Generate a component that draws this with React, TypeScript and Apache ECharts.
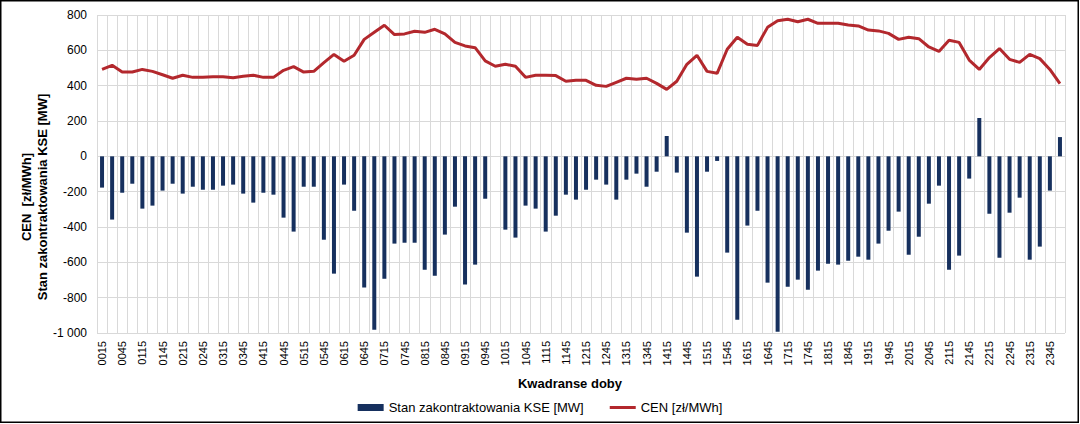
import React, { useEffect, useRef } from "react";
import * as echarts from "echarts";

const categories: string[] = ["0015","0030","0045","0100","0115","0130","0145","0200","0215","0230","0245","0300","0315","0330","0345","0400","0415","0430","0445","0500","0515","0530","0545","0600","0615","0630","0645","0700","0715","0730","0745","0800","0815","0830","0845","0900","0915","0930","0945","1000","1015","1030","1045","1100","1115","1130","1145","1200","1215","1230","1245","1300","1315","1330","1345","1400","1415","1430","1445","1500","1515","1530","1545","1600","1615","1630","1645","1700","1715","1730","1745","1800","1815","1830","1845","1900","1915","1930","1945","2000","2015","2030","2045","2100","2115","2130","2145","2200","2215","2230","2245","2300","2315","2330","2345","2400"];

const kse: number[] = [
  -177, -358, -206, -155, -296, -279, -194, -155, -211, -172,
  -189, -189, -166, -160, -211, -262, -206, -217, -347, -426,
  -172, -172, -472, -664, -160, -308, -743, -981, -693, -494,
  -489, -489, -642, -676, -443, -285, -726, -613, -240, 0,
  -415, -460, -279, -296, -426, -336, -217, -245, -189, -132,
  -160, -245, -132, -98, -172, -87, 115, -92, -432, -681,
  -87, -26, -545, -925, -392, -308, -715, -993, -738, -698,
  -755, -647, -608, -613, -591, -568, -585, -494, -421, -313,
  -557, -455, -268, -166, -642, -562, -126, 217, -325, -574,
  -319, -234, -585, -511, -194, 109,
];

const cen: number[] = [
  492, 515, 477, 477, 492, 481, 462, 442, 459, 447,
  447, 451, 451, 445, 453, 459, 447, 447, 487, 508,
  477, 481, 530, 577, 538, 572, 662, 702, 742, 689,
  693, 708, 702, 719, 693, 645, 625, 615, 540, 510,
  521, 510, 447, 459, 459, 457, 425, 430, 430, 402,
  396, 419, 442, 436, 442, 413, 379, 425, 521, 572,
  481, 470, 606, 674, 634, 628, 730, 768, 776, 762,
  776, 753, 753, 753, 743, 738, 715, 710, 696, 662,
  674, 666, 619, 594, 657, 645, 545, 492, 559, 610,
  549, 532, 577, 553, 492, 411,
];

const seriesNames = ["Stan zakontraktowania KSE [MW]", "CEN [zł/MWh]"];
const xTitle = "Kwadranse doby";
const yTitle1 = "CEN  [zł/MWh]";
const yTitle2 = "Stan zakontraktowania KSE [MW]";

const FONT = "'Liberation Sans', Arial, sans-serif";

function fmt(v: number): string {
  const neg = v < 0;
  const s = String(Math.abs(v)).replace(/\B(?=(\d{3})+(?!\d))/g, " ");
  return (neg ? "-" : "") + s;
}

export default function App() {
  const ref = useRef<HTMLDivElement>(null);
  useEffect(() => {
    if (!ref.current) return;
    const chart = echarts.init(ref.current, undefined, { renderer: "svg" });
    chart.setOption({
      animation: false,
      backgroundColor: "#fff",
      textStyle: { fontFamily: FONT },
      grid: { left: 97, right: 15, top: 15, bottom: 91, containLabel: false },
      legend: {
        left: "center",
        top: 396,
        itemGap: 26,
        itemWidth: 26,
        itemHeight: 7,
        textStyle: { fontFamily: FONT, fontSize: 13, color: "#000" },
        data: [
          { name: seriesNames[0], icon: "rect" },
          {
            name: seriesNames[1],
            icon: "path://M0,0h26v3h-26z",
            itemStyle: { color: "#B3282D", borderWidth: 0 },
          },
        ],
      },
      xAxis: {
        type: "category",
        data: categories,
        boundaryGap: true,
        axisLine: { show: false },
        axisTick: { show: false },
        axisLabel: {
          interval: 1,
          rotate: 90,
          margin: 8,
          fontSize: 11,
          color: "#000",
          fontFamily: FONT,
        },
        splitLine: { show: true, interval: 0, lineStyle: { color: "#d9d9d9", width: 1 } },
      },
      yAxis: {
        type: "value",
        min: -1000,
        max: 800,
        interval: 200,
        axisLine: { show: false },
        axisTick: { show: false },
        axisLabel: {
          margin: 10,
          fontSize: 12,
          color: "#000",
          fontFamily: FONT,
          formatter: (v: number) => fmt(v),
        },
        splitLine: { show: true, lineStyle: { color: "#d9d9d9", width: 1 } },
      },
      graphic: [
        {
          type: "rect",
          shape: { x: 0.75, y: 0.75, width: 1077.5, height: 421.5 },
          style: { fill: "none", stroke: "#000", lineWidth: 1.5 },
          silent: true,
        },
        {
          type: "text",
          x: 570,
          y: 383,
          style: {
            text: xTitle,
            font: `bold 13px ${FONT}`,
            fill: "#000",
            textAlign: "center",
            textVerticalAlign: "middle",
          },
        },
        {
          type: "text",
          x: 26,
          y: 197,
          rotation: Math.PI / 2,
          style: {
            text: yTitle1,
            font: `bold 13px ${FONT}`,
            fill: "#000",
            textAlign: "center",
            textVerticalAlign: "middle",
          },
        },
        {
          type: "text",
          x: 42,
          y: 197,
          rotation: Math.PI / 2,
          style: {
            text: yTitle2,
            font: `bold 13px ${FONT}`,
            fill: "#000",
            textAlign: "center",
            textVerticalAlign: "middle",
          },
        },
      ],
      series: [
        {
          name: seriesNames[0],
          type: "bar",
          data: kse,
          barWidth: 4,
          itemStyle: { color: "#16305E" },
        },
        {
          name: seriesNames[1],
          type: "line",
          data: cen,
          symbol: "none",
          lineStyle: { color: "#B3282D", width: 3 },
          itemStyle: { color: "#B3282D" },
        },
      ],
    });
    return () => chart.dispose();
  }, []);
  return (
    <div
      ref={ref}
      style={{ position: "fixed", left: 0, top: 0, width: 1080, height: 424 }}
    />
  );
}
